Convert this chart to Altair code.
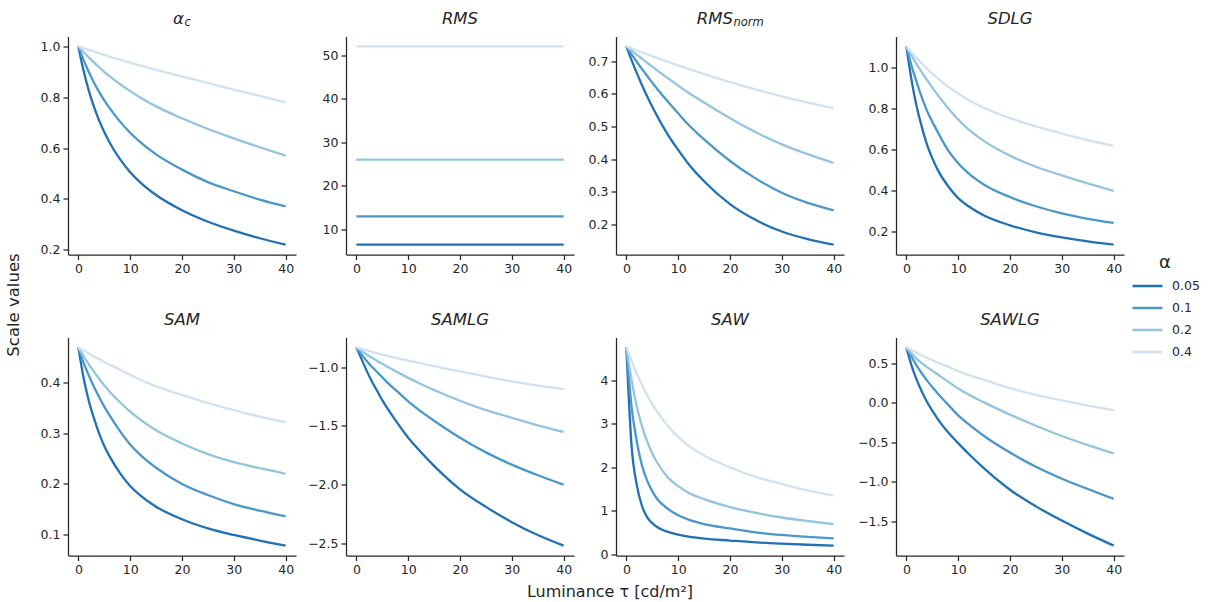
import altair as alt
import pandas as pd

# ---------------- data ----------------
TAU = [0, 1, 2, 3, 4, 5, 6, 8, 10, 12, 15, 20, 25, 30, 35, 40]
ALPHAS = ["0.05", "0.1", "0.2", "0.4"]
COLORS = ["#2171b5", "#4a98c9", "#94c4df", "#d0e1f2"]

ALPHA_C = [
    [1.0, 0.905, 0.827, 0.763, 0.709, 0.663, 0.623, 0.557, 0.505, 0.464, 0.415, 0.355, 0.31, 0.275, 0.245, 0.22],
    [1.0, 0.947, 0.90, 0.858, 0.821, 0.788, 0.758, 0.705, 0.66, 0.622, 0.575, 0.515, 0.466, 0.43, 0.397, 0.37],
    [1.0, 0.978, 0.957, 0.937, 0.918, 0.90, 0.883, 0.852, 0.824, 0.798, 0.764, 0.717, 0.675, 0.638, 0.603, 0.57],
    [1.0, 0.993, 0.986, 0.98, 0.973, 0.967, 0.96, 0.948, 0.936, 0.924, 0.908, 0.882, 0.856, 0.83, 0.805, 0.78],
]
RMS_LEVELS = [6.5, 13.0, 26.0, 52.0]
RMS_NORM = [
    [0.745, 0.703, 0.664, 0.627, 0.592, 0.56, 0.53, 0.475, 0.428, 0.385, 0.332, 0.262, 0.213, 0.178, 0.155, 0.138],
    [0.745, 0.721, 0.698, 0.676, 0.655, 0.634, 0.614, 0.576, 0.54, 0.505, 0.46, 0.394, 0.34, 0.297, 0.266, 0.243],
    [0.745, 0.732, 0.72, 0.707, 0.695, 0.683, 0.671, 0.648, 0.625, 0.603, 0.573, 0.525, 0.482, 0.445, 0.415, 0.388],
    [0.745, 0.739, 0.733, 0.727, 0.721, 0.715, 0.709, 0.698, 0.687, 0.676, 0.66, 0.636, 0.613, 0.592, 0.573, 0.555],
]
SDLG = [
    [1.105, 0.94, 0.81, 0.71, 0.625, 0.56, 0.505, 0.425, 0.365, 0.325, 0.28, 0.232, 0.198, 0.173, 0.154, 0.138],
    [1.105, 1.01, 0.93, 0.855, 0.79, 0.738, 0.69, 0.60, 0.535, 0.485, 0.43, 0.37, 0.325, 0.29, 0.264, 0.244],
    [1.105, 1.06, 1.018, 0.978, 0.94, 0.904, 0.87, 0.806, 0.748, 0.70, 0.643, 0.572, 0.518, 0.476, 0.437, 0.40],
    [1.105, 1.075, 1.047, 1.021, 0.996, 0.972, 0.95, 0.91, 0.875, 0.844, 0.805, 0.755, 0.715, 0.68, 0.648, 0.62],
]
SAM = [
    [0.47, 0.41, 0.365, 0.33, 0.30, 0.275, 0.255, 0.222, 0.196, 0.177, 0.155, 0.13, 0.112, 0.099, 0.088, 0.078],
    [0.47, 0.44, 0.415, 0.392, 0.372, 0.353, 0.336, 0.305, 0.278, 0.257, 0.232, 0.200, 0.178, 0.16, 0.147, 0.136],
    [0.47, 0.453, 0.437, 0.422, 0.408, 0.395, 0.383, 0.362, 0.343, 0.327, 0.306, 0.28, 0.259, 0.243, 0.231, 0.22],
    [0.47, 0.464, 0.458, 0.452, 0.447, 0.441, 0.436, 0.426, 0.416, 0.406, 0.393, 0.376, 0.36, 0.346, 0.333, 0.322],
]
SAMLG = [
    [-0.83, -0.93, -1.03, -1.12, -1.2, -1.28, -1.35, -1.48, -1.6, -1.7, -1.84, -2.04, -2.19, -2.32, -2.43, -2.52],
    [-0.83, -0.89, -0.945, -0.995, -1.04, -1.085, -1.13, -1.21, -1.29, -1.36, -1.455, -1.6, -1.725, -1.83, -1.92, -2.0],
    [-0.83, -0.86, -0.89, -0.918, -0.945, -0.97, -0.995, -1.043, -1.09, -1.133, -1.193, -1.285, -1.365, -1.43, -1.494, -1.551],
    [-0.83, -0.843, -0.856, -0.868, -0.88, -0.891, -0.902, -0.923, -0.943, -0.962, -0.99, -1.035, -1.08, -1.12, -1.155, -1.186],
]
SAW = [
    [4.75, 2.5, 1.6, 1.12, 0.86, 0.72, 0.625, 0.52, 0.455, 0.41, 0.367, 0.322, 0.28, 0.25, 0.225, 0.206],
    [4.75, 3.4, 2.6, 2.05, 1.7, 1.45, 1.27, 1.05, 0.90, 0.80, 0.70, 0.60, 0.51, 0.45, 0.405, 0.37],
    [4.75, 4.0, 3.4, 2.95, 2.6, 2.32, 2.1, 1.77, 1.57, 1.42, 1.27, 1.09, 0.955, 0.85, 0.77, 0.70],
    [4.75, 4.45, 4.15, 3.9, 3.65, 3.45, 3.27, 2.95, 2.70, 2.50, 2.27, 2.00, 1.78, 1.62, 1.47, 1.35],
]
SAWLG = [
    [0.70, 0.47, 0.29, 0.14, 0.01, -0.1, -0.2, -0.37, -0.51, -0.645, -0.83, -1.1, -1.31, -1.49, -1.655, -1.806],
    [0.70, 0.58, 0.47, 0.37, 0.28, 0.2, 0.12, -0.02, -0.16, -0.27, -0.42, -0.63, -0.81, -0.96, -1.09, -1.215],
    [0.70, 0.625, 0.555, 0.50, 0.45, 0.405, 0.36, 0.27, 0.18, 0.105, 0.005, -0.15, -0.29, -0.42, -0.535, -0.64],
    [0.70, 0.665, 0.63, 0.60, 0.57, 0.54, 0.51, 0.455, 0.40, 0.35, 0.29, 0.185, 0.1, 0.03, -0.035, -0.095],
]

# ---------------- styling ----------------
FONT = "DejaVu Sans"
INK = "#262626"
W, H = 228, 218

legend = alt.Legend(
    title="α", orient="none", legendX=1063, legendY=217,
    symbolType="stroke", symbolStrokeWidth=2.5, symbolSize=900,
    labelFont=FONT, labelFontSize=12.5, labelColor=INK,
    titleFont=FONT, titleFontSize=18, titleFontWeight="normal", titleColor=INK,
    titleAnchor="middle", titlePadding=4, rowPadding=0, clipHeight=21.2, labelOffset=8,
)


def panel(series, ticks, fmt, extent, main, sub=None, junction=0):
    rows = []
    for a, vals in zip(ALPHAS, series):
        for t, v in zip(TAU, vals):
            rows.append({"tau": t, "alpha": a, "value": v})
    df = pd.DataFrame(rows)
    lo, hi = df["value"].min(), df["value"].max()
    pad = 0.05 * (hi - lo)
    lines = alt.Chart(df).mark_line(strokeWidth=2.3, interpolate="monotone").encode(
        x=alt.X("tau:Q",
                scale=alt.Scale(domain=[-2, 42], nice=False, zero=False),
                axis=alt.Axis(values=[0, 10, 20, 30, 40], format="d", title=None,
                              minExtent=22, maxExtent=22)),
        y=alt.Y("value:Q",
                scale=alt.Scale(domain=[lo - pad, hi + pad], nice=False, zero=False),
                axis=alt.Axis(values=ticks, format=fmt, title=None,
                              minExtent=extent, maxExtent=extent)),
        color=alt.Color("alpha:N", scale=alt.Scale(domain=ALPHAS, range=COLORS),
                        sort=ALPHAS, legend=legend),
    )
    layers = [lines]
    if sub is None:
        layers.append(
            alt.Chart(pd.DataFrame({"t": [main]})).mark_text(
                font=FONT, fontSize=16.5, fontStyle="italic", color=INK,
                align="center", baseline="alphabetic").encode(
                text="t:N", x=alt.value(W / 2), y=alt.value(-13)))
    else:
        layers.append(
            alt.Chart(pd.DataFrame({"t": [main]})).mark_text(
                font=FONT, fontSize=16.5, fontStyle="italic", color=INK,
                align="right", baseline="alphabetic").encode(
                text="t:N", x=alt.value(W / 2 + junction), y=alt.value(-13)))
        layers.append(
            alt.Chart(pd.DataFrame({"t": [sub]})).mark_text(
                font=FONT, fontSize=11.5, fontStyle="italic", color=INK,
                align="left", baseline="alphabetic").encode(
                text="t:N", x=alt.value(W / 2 + junction + 0.5), y=alt.value(-10.5)))
    return alt.layer(*layers).properties(width=W, height=H)


rms_series = [[lvl] * len(TAU) for lvl in RMS_LEVELS]

p1 = panel(ALPHA_C, [0.2, 0.4, 0.6, 0.8, 1.0], ".1f", 40, "α", "c", 2)
p2 = panel(rms_series, [10, 20, 30, 40, 50], "d", 49.5, "RMS")
p3 = panel(RMS_NORM, [0.2, 0.3, 0.4, 0.5, 0.6, 0.7], ".1f", 41.5, "RMS", "norm", 3)
p4 = panel(SDLG, [0.2, 0.4, 0.6, 0.8, 1.0], ".1f", 51.2, "SDLG")
p5 = panel(SAM, [0.1, 0.2, 0.3, 0.4], ".1f", 40, "SAM")
p6 = panel(SAMLG, [-2.5, -2.0, -1.5, -1.0], ".1f", 49.5, "SAMLG")
p7 = panel(SAW, [0, 1, 2, 3, 4], "d", 41.5, "SAW")
p8 = panel(SAWLG, [-1.5, -1.0, -0.5, 0.0, 0.5], ".1f", 51.2, "SAWLG")

row1 = alt.hconcat(p1, p2, p3, p4, spacing=0)
row2 = alt.hconcat(p5, p6, p7, p8, spacing=0)
grid = alt.vconcat(row1, row2, spacing=35).properties(
    title=alt.TitleParams("Luminance τ [cd/m²]", orient="bottom", anchor="middle",
                          font=FONT, fontSize=16, fontWeight="normal", color=INK,
                          offset=6, dx=34))

chart = alt.hconcat(grid).properties(
    title=alt.TitleParams("Scale values", orient="left", anchor="middle",
                          font=FONT, fontSize=16.5, fontWeight="normal", color=INK,
                          offset=6),
    padding={"left": 5, "top": 10.5, "right": 5, "bottom": 0},
    background="white",
).configure_view(stroke=None).configure_axis(
    grid=False, domainColor=INK, domainWidth=1.25, tickColor=INK, tickWidth=1.25,
    tickSize=5, labelFont=FONT, labelFontSize=12.5, labelColor=INK, labelPadding=3,
)

chart.save("out.html", embed_options={"renderer": "svg", "actions": False})
